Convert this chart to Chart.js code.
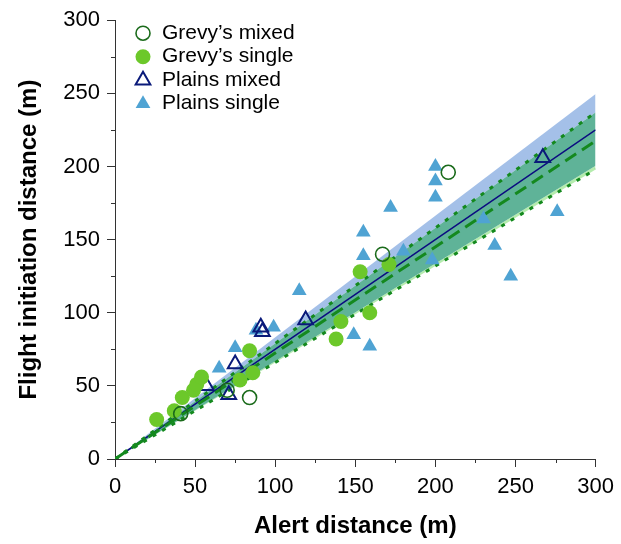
<!DOCTYPE html>
<html>
<head>
<meta charset="utf-8">
<script src="https://cdn.jsdelivr.net/npm/chart.js@4.4.0/dist/chart.umd.min.js"></script>
<style>
  body { margin: 0; background: #fff; }
  #wrap { width: 621px; height: 544px; }
</style>
</head>
<body>
<div id="wrap"><canvas id="chart" width="621" height="544"></canvas></div>
<script>
// fitted lines through the origin, values at x = 0 and x = 300
const fitX = [0, 300];
const plainsFit = [0, 225];
const plainsUpper = [0, 249.5];
const plainsLower = [0, 200.5];
const grevyFit = [0, 217.5];
const grevyUpper = [0, 237];
const grevyLower = [0, 198];

// observations
const grevyMixedX = [41, 70, 84, 167, 208];
const grevyMixedY = [31, 47, 42, 140, 196];
const grevySingleX = [26, 37, 42, 49, 51, 54, 78, 84, 86, 138, 141, 153, 159, 171];
const grevySingleY = [27, 33, 42, 47, 51, 56, 54, 74, 59, 82, 94, 128, 100, 133];
const plainsMixedX = [57, 71, 75, 91, 92, 119, 267];
const plainsMixedY = [50, 44, 65, 90, 87, 95, 206];
const plainsSingleX = [65, 75, 88, 99, 115, 149, 155, 155, 159, 172, 180, 198, 200, 200, 200, 230, 237, 247, 276];
const plainsSingleY = [62, 76, 88, 90, 115, 85, 155, 139, 77, 172, 142, 136, 200, 190, 179, 164, 146, 125, 169];

const xTicks = [0, 50, 100, 150, 200, 250, 300];
const yTicks = [0, 50, 100, 150, 200, 250, 300];
const minorTicks = [25, 75, 125, 175, 225, 275];

const FONT = '"Liberation Sans", Arial, sans-serif';

function pts(xs, ys) {
  return xs.map((x, i) => ({ x: x, y: ys[i] }));
}

function bandLine(ys, opts) {
  return Object.assign({
    data: pts(fitX, ys),
    showLine: true,
    pointRadius: 0,
    borderWidth: 0,
    borderColor: 'rgba(0,0,0,0)',
    fill: false,
    order: 2
  }, opts);
}

const datasets = [
  { label: "Grevy’s mixed", data: pts(grevyMixedX, grevyMixedY), pointStyle: 'circle', pointRadius: 7,
    backgroundColor: 'rgba(255,255,255,0)', borderColor: '#1b6b1b', borderWidth: 1.6, order: 0 },
  { label: "Grevy’s single", data: pts(grevySingleX, grevySingleY), pointStyle: 'circle', pointRadius: 7.5,
    backgroundColor: '#6cc82a', borderColor: '#6cc82a', borderWidth: 0, order: 0 },
  { label: 'Plains mixed', data: pts(plainsMixedX, plainsMixedY), pointStyle: 'triangle', pointRadius: 8.5,
    backgroundColor: 'rgba(255,255,255,0)', borderColor: '#0a1a7a', borderWidth: 2, order: 0 },
  { label: 'Plains single', data: pts(plainsSingleX, plainsSingleY), pointStyle: 'triangle', pointRadius: 8.5,
    backgroundColor: '#4fa3d3', borderColor: '#4fa3d3', borderWidth: 0, order: 0 },

  // confidence bands (index 4..7), filled to the next boundary
  bandLine(plainsUpper, { fill: '+1', backgroundColor: '#a4c0e8' }),
  bandLine(grevyUpper, { fill: '+1', backgroundColor: '#5fb398', borderColor: '#14891e', borderWidth: 3, borderDash: [4, 7], order: 1 }),
  bandLine(plainsLower, { fill: '+1', backgroundColor: '#b5ecae' }),
  bandLine(grevyLower, { borderColor: '#14891e', borderWidth: 3, borderDash: [4, 7], order: 1 }),

  // fitted lines
  bandLine(grevyFit, { borderColor: '#14891e', borderWidth: 3, borderDash: [13, 7], order: 1 }),
  bandLine(plainsFit, { borderColor: '#0b0b80', borderWidth: 1.5, order: 1 })
];

// legend inside the plot, top left
const insideLegend = {
  id: 'insideLegend',
  afterDatasetsDraw(chart) {
    const ctx = chart.ctx;
    const area = chart.chartArea;
    ctx.save();
    ctx.font = '21px ' + FONT;
    ctx.textBaseline = 'middle';
    [0, 1, 2, 3].forEach((idx, i) => {
      const ds = chart.data.datasets[idx];
      const y = area.top + 13 + i * 23.5;
      ctx.fillStyle = ds.backgroundColor;
      ctx.strokeStyle = ds.borderColor;
      ctx.lineWidth = ds.borderWidth;
      Chart.helpers.drawPoint(ctx, { pointStyle: ds.pointStyle, radius: ds.pointRadius, borderWidth: ds.borderWidth }, area.left + 28, y);
      ctx.fillStyle = '#000';
      ctx.fillText(ds.label, area.left + 47, y);
    });
    ctx.restore();
  }
};

// short minor ticks between the labelled ones
const minorTickMarks = {
  id: 'minorTickMarks',
  afterDraw(chart) {
    const ctx = chart.ctx;
    const xs = chart.scales.x, ys = chart.scales.y;
    ctx.save();
    ctx.strokeStyle = '#333';
    ctx.lineWidth = 1;
    ctx.beginPath();
    minorTicks.forEach(v => {
      const px = Math.round(xs.getPixelForValue(v)) + 0.5;
      ctx.moveTo(px, xs.top);
      ctx.lineTo(px, xs.top + 4);
      const py = Math.round(ys.getPixelForValue(v)) + 0.5;
      ctx.moveTo(ys.right, py);
      ctx.lineTo(ys.right - 4, py);
    });
    ctx.stroke();
    ctx.restore();
  }
};

function axis(title, ticks, fit) {
  return {
    type: 'linear',
    min: 0,
    max: 300,
    afterBuildTicks: s => { s.ticks = ticks.map(v => ({ value: v })); },
    afterFit: fit,
    ticks: { color: '#000', font: { family: FONT, size: 22 }, padding: 7 },
    grid: { drawOnChartArea: false, color: '#333', tickLength: 8, tickWidth: 1 },
    border: { color: '#333', width: 1 },
    title: { display: true, text: title, color: '#000', font: { family: FONT, size: 24, weight: 'bold' } }
  };
}

const xAxis = axis('Alert distance (m)', xTicks, s => { s.height = 85; });
xAxis.title.padding = { top: 0, bottom: 3 };
const yAxis = axis('Flight initiation distance (m)', yTicks, s => { s.width = 115; });
yAxis.title.padding = { top: 15, bottom: 0 };

new Chart(document.getElementById('chart'), {
  type: 'scatter',
  data: { datasets: datasets },
  options: {
    responsive: false,
    animation: false,
    layout: { padding: { left: 0, right: 20, top: 19, bottom: 0 } },
    plugins: {
      legend: { display: false },
      tooltip: { enabled: false },
      filler: { drawTime: 'beforeDatasetsDraw' }
    },
    scales: { x: xAxis, y: yAxis }
  },
  plugins: [insideLegend, minorTickMarks]
});
</script>
</body>
</html>
